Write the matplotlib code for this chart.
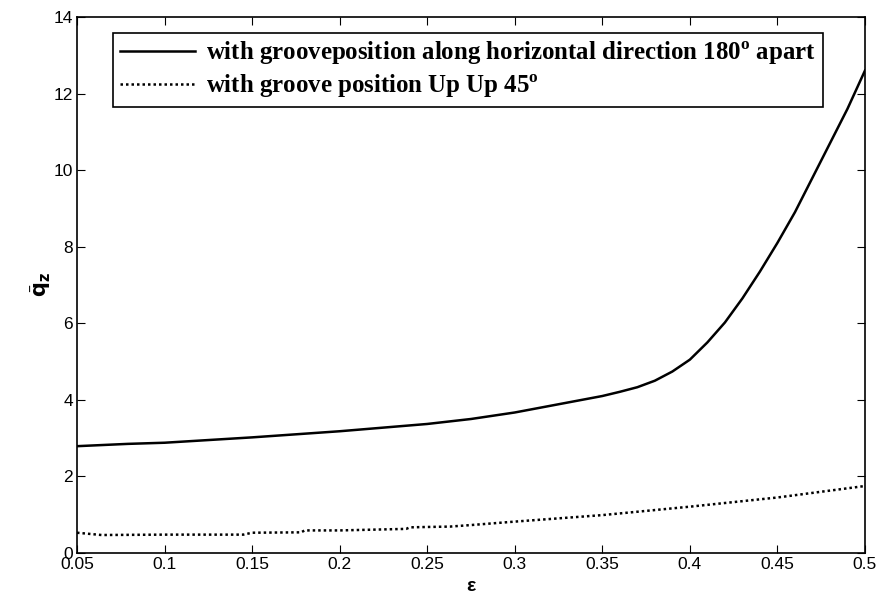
import numpy as np
import matplotlib
matplotlib.use("Agg")
import matplotlib.pyplot as plt

# solid curve: groove along horizontal direction, 180 deg apart
eps_h = [0.05, 0.079, 0.10, 0.15, 0.20, 0.25, 0.275, 0.30, 0.35, 0.36, 0.37,
         0.38, 0.39, 0.40, 0.41, 0.42, 0.43, 0.44, 0.45, 0.46, 0.47,
         0.48, 0.49, 0.50]
q_h = [2.79, 2.85, 2.88, 3.02, 3.18, 3.37, 3.50, 3.67, 4.10, 4.21, 4.33,
       4.50, 4.74, 5.05, 5.50, 6.02, 6.65, 7.35, 8.10, 8.90, 9.80,
       10.70, 11.60, 12.60]

# dotted curve: groove position Up Up 45 deg
eps_u = [0.05, 0.064, 0.10, 0.145, 0.15, 0.178, 0.18, 0.20, 0.238, 0.24, 0.25,
         0.263, 0.275, 0.30, 0.35, 0.40, 0.45, 0.50]
q_u = [0.53, 0.47, 0.48, 0.48, 0.53, 0.54, 0.59, 0.59, 0.63, 0.67, 0.68,
       0.69, 0.73, 0.82, 0.99, 1.21, 1.45, 1.75]

labels = ["with grooveposition along horizontal direction 180$^\\mathregular{o}$ apart",
          "with groove position Up Up 45$^\\mathregular{o}$"]
xticks = [0.05, 0.1, 0.15, 0.2, 0.25, 0.3, 0.35, 0.4, 0.45, 0.5]
xticklabels = ["0.05", "0.1", "0.15", "0.2", "0.25", "0.3", "0.35", "0.4", "0.45", "0.5"]
yticks = [0, 2, 4, 6, 8, 10, 12, 14]

plt.rcParams["font.family"] = ["Liberation Sans", "DejaVu Sans"]
plt.rcParams["mathtext.fontset"] = "custom"
plt.rcParams["mathtext.rm"] = "Liberation Serif:bold"

fig = plt.figure(figsize=(8.82, 6.03), dpi=100)
ax = fig.add_axes([0.0873, 0.0829, 0.8934, 0.889])

ax.plot(eps_h, q_h, color="black", lw=1.8, label=labels[0])
ax.plot(eps_u, q_u, color="black", lw=1.8, linestyle=(0, (1, 1.2)), label=labels[1])

ax.set_xlim(0.05, 0.5)
ax.set_ylim(0, 14)
ax.set_xticks(xticks)
ax.set_xticklabels(xticklabels)
ax.set_yticks(yticks)
ax.tick_params(direction="in", top=True, right=True, length=6, labelsize=12.5, pad=3)
for s in ax.spines.values():
    s.set_linewidth(1.2)

ax.set_xlabel("ε", fontsize=14, fontweight="bold", labelpad=4)
ax.set_ylabel(r"$\bar{\mathbf{q}}_{\mathbf{z}}$", fontsize=15, labelpad=0)

leg = ax.legend(loc="upper left", bbox_to_anchor=(0.046, 0.97), borderaxespad=0,
                frameon=True, fancybox=False, edgecolor="black", framealpha=1,
                borderpad=0.28, handlelength=3.0, handletextpad=0.45, labelspacing=0.22,
                prop={"family": "Liberation Serif", "weight": "bold", "size": 17.9})
leg.get_frame().set_linewidth(1.2)

fig.savefig("out.png", dpi=100)
